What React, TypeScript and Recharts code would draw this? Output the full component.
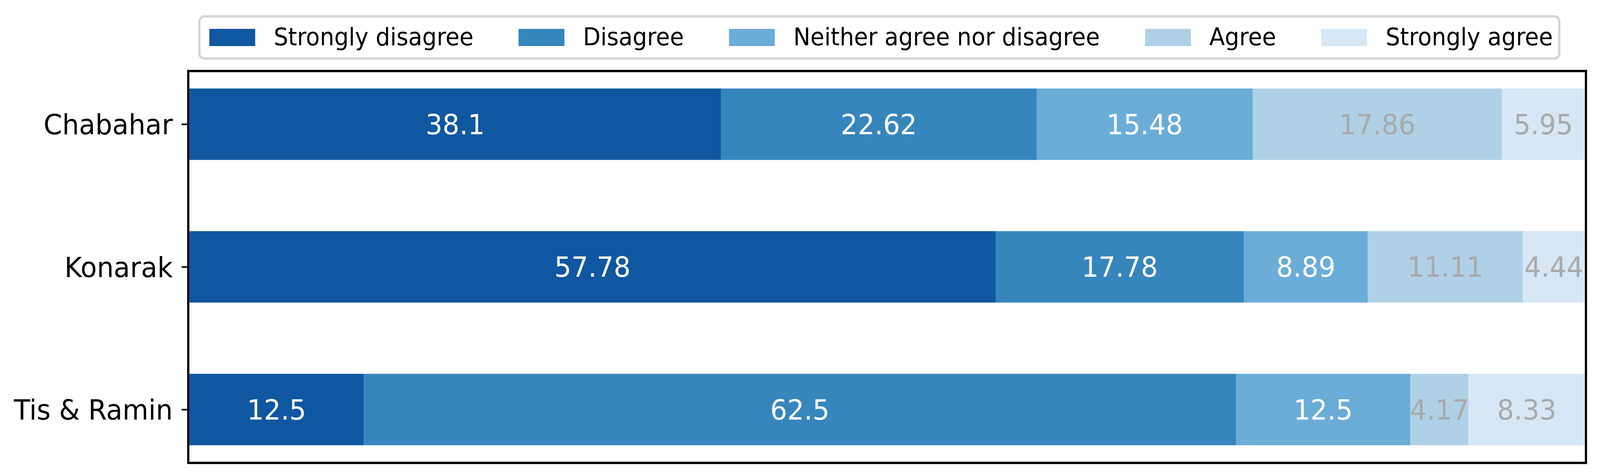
import React from 'react';
import { BarChart, Bar, XAxis, YAxis, LabelList, ReferenceArea } from 'recharts';

const categories = ['Chabahar', 'Konarak', 'Tis & Ramin'];
const stronglyDisagree = [38.1, 57.78, 12.5];
const disagree = [22.62, 17.78, 62.5];
const neither = [15.48, 8.89, 12.5];
const agree = [17.86, 11.11, 4.17];
const stronglyAgree = [5.95, 4.44, 8.33];

const seriesKeys = ['sd', 'd', 'n', 'a', 'sa'];
const seriesNames = ['Strongly disagree', 'Disagree', 'Neither agree nor disagree', 'Agree', 'Strongly agree'];
const seriesValues = [stronglyDisagree, disagree, neither, agree, stronglyAgree];
const seriesColors = ['#0f57a0', '#3686be', '#6badd6', '#afd1e7', '#d8e7f5'];
const labelColors = ['#ffffff', '#ffffff', '#ffffff', '#a9a9a9', '#a9a9a9'];

const data = categories.map((name, i) => {
  const row: Record<string, number | string> = { pos: i, name };
  seriesKeys.forEach((k, s) => {
    row[k] = seriesValues[s][i];
  });
  return row;
});

const FONT = '"DejaVu Sans", sans-serif';
const W = 4326;
const H = 1217;

// legend drawn as a plain box above the plot, matplotlib style
const LegendBox = () => (
  <div
    style={{
      position: 'absolute',
      left: 536,
      top: 39,
      boxSizing: 'border-box',
      width: 3683,
      height: 114,
      border: '6px solid #d5d5d5',
      borderRadius: 16,
      background: '#fff',
      display: 'flex',
      alignItems: 'center',
      paddingLeft: 24,
      fontFamily: FONT,
      fontSize: 61.5,
      color: '#000',
      whiteSpace: 'nowrap',
      overflow: 'hidden',
    }}
  >
    {seriesNames.map((name, i) => (
      <div key={name} style={{ display: 'flex', alignItems: 'center', flexShrink: 0, marginRight: i < seriesNames.length - 1 ? 122 : 0 }}>
        <span style={{ display: 'inline-block', width: 124, height: 44, background: seriesColors[i], marginRight: 50 }} />
        <span style={{ lineHeight: 1 }}>{name}</span>
      </div>
    ))}
  </div>
);

const App = () => {
  // the browser window can be narrower than the figure, squeeze it horizontally to fit
  const sx = typeof window !== 'undefined' ? Math.min(1, window.innerWidth / W) : 1;
  return (
    <div
      style={{
        position: 'absolute',
        left: 0,
        top: 0,
        width: W,
        height: H,
        background: '#fff',
        overflow: 'hidden',
        transform: `scaleX(${sx})`,
        transformOrigin: '0 0',
      }}
    >
      <BarChart
        width={W}
        height={H}
        data={data}
        layout="vertical"
        margin={{ top: 185, right: 41, bottom: 34, left: 0 }}
      >
        <XAxis type="number" domain={[0, 100]} allowDataOverflow hide />
        <YAxis
          type="number"
          dataKey="pos"
          domain={[-0.365, 2.365]}
          allowDataOverflow
          ticks={[0, 1, 2]}
          tickFormatter={(v: number) => categories[v]}
          width={512}
          axisLine={false}
          tickSize={21}
          tickMargin={24}
          tickLine={{ stroke: '#000', strokeWidth: 4 }}
          tick={{ fontSize: 72, fill: '#000', fontFamily: FONT }}
        />
        {seriesKeys.map((k, s) => (
          <Bar key={k} dataKey={k} name={seriesNames[s]} stackId="a" fill={seriesColors[s]} barSize={183} isAnimationActive={false}>
            <LabelList
              dataKey={k}
              position="center"
              fill={labelColors[s]}
              fontSize={72}
              fontFamily={FONT}
              isAnimationActive={false}
            />
          </Bar>
        ))}
        <ReferenceArea
          x1={-0.08}
          x2={100.08}
          y1={-0.373}
          y2={2.373}
          ifOverflow="visible"
          fill="none"
          fillOpacity={0}
          stroke="#000"
          strokeWidth={6}
        />
      </BarChart>
      <LegendBox />
    </div>
  );
};

export default App;
